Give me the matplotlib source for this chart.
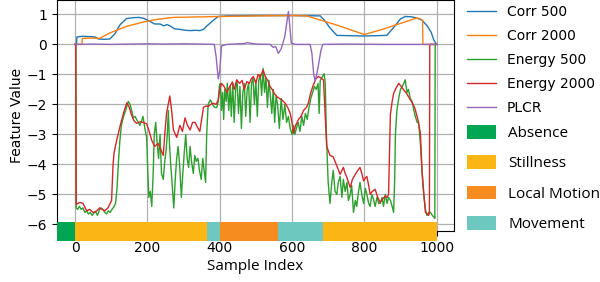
import matplotlib
matplotlib.use("Agg")
import matplotlib.pyplot as plt
from matplotlib.patches import Patch

# ---- data ----
corr500_x = [0, 4, 5, 20, 40, 55, 65, 80, 96, 110, 124, 142, 160, 175, 190, 205, 220, 235, 245, 255,
             265, 275, 290, 305, 320, 335, 345, 355, 365, 382, 396, 420, 500, 600, 678, 690, 705, 724,
             800, 862, 880, 900, 913, 930, 945, 960, 975, 985, 992, 997, 1000]
corr500_y = [0, 0, 0.25, 0.27, 0.26, 0.25, 0.18, 0.17, 0.18, 0.35, 0.65, 0.86, 0.89, 0.9, 0.87, 0.78,
             0.68, 0.68, 0.62, 0.66, 0.6, 0.52, 0.5, 0.47, 0.46, 0.47, 0.46, 0.5, 0.62, 0.8, 0.93, 0.95,
             0.96, 0.96, 0.95, 0.8, 0.55, 0.3, 0.28, 0.3, 0.55, 0.85, 0.93, 0.92, 0.88, 0.8, 0.6, 0.4,
             0.15, 0.05, 0]

corr2000_x = [0, 19, 20, 40, 68, 96, 142, 190, 225, 272, 400, 500, 600, 640, 720, 800, 850, 900, 945,
              955, 961, 962, 1000]
corr2000_y = [0, 0, 0.2, 0.21, 0.2, 0.38, 0.6, 0.75, 0.83, 0.9, 0.93, 0.95, 0.96, 0.95, 0.66, 0.33,
              0.5, 0.7, 0.88, 0.85, 0.8, 0, 0]

energy500_x = [0, 2, 3, 7, 12, 17, 22, 27, 32, 37, 42, 47, 52, 57, 62, 67, 72, 77, 82, 87, 92, 97, 102,
               107, 112, 116, 120, 124, 128, 134, 140, 147, 152, 156, 161, 166, 170, 175, 179, 184, 188,
               193, 198, 201, 204, 208, 212, 216, 219, 223, 227, 231, 235, 239, 244, 248, 252, 255, 258,
               261, 264, 268, 273, 277, 281, 285, 289, 294, 298, 302, 306, 310, 314, 318, 322, 327, 331,
               335, 340, 344, 349, 353, 358, 361, 364, 368, 374, 380, 386, 392, 396, 399, 402, 405, 408,
               411, 414, 418, 421, 425, 429, 432, 436, 440, 444, 448, 452, 456, 460, 464, 468, 472, 476,
               480, 484, 488, 492, 496, 500, 504, 508, 512, 516, 520, 524, 528, 532, 536, 540, 544, 548,
               552, 556, 560, 565, 570, 575, 580, 585, 590, 595, 600, 604, 608, 612, 617, 622, 627, 632,
               637, 642, 647, 652, 657, 662, 667, 672, 675, 678, 683, 689, 692, 695, 700, 705, 710, 714,
               719, 724, 728, 733, 738, 742, 747, 752, 756, 761, 765, 770, 775, 779, 784, 788, 793, 798,
               803, 807, 812, 816, 821, 826, 830, 835, 840, 844, 849, 853, 858, 863, 867, 872, 877, 881,
               884, 886, 890, 895, 900, 905, 909, 913, 918, 922, 927, 932, 937, 941, 946, 950, 955, 960,
               964, 969, 973, 978, 983, 988, 992, 995, 996, 1000]
energy500_y = [0, 0, -5.45, -5.5, -5.4, -5.5, -5.45, -5.6, -5.55, -5.65, -5.6, -5.7, -5.62, -5.58, -5.7,
               -5.52, -5.45, -5.5, -5.6, -5.65, -5.55, -5.6, -5.5, -5.42, -5.3, -4.8, -3.9, -3.2, -2.7,
               -2.4, -2.2, -1.9, -2.0, -2.18, -2.45, -2.4, -2.5, -2.6, -2.7, -2.55, -2.4, -2.8, -3.1,
               -4.2, -5.1, -4.9, -5.4, -4.3, -3.0, -2.6, -3.3, -3.8, -3.0, -4.3, -4.5, -3.9, -3.5, -3.0,
               -2.2, -3.3, -3.9, -4.6, -5.45, -4.5, -3.8, -3.4, -4.0, -5.1, -4.3, -3.6, -3.0, -3.8, -4.1,
               -3.4, -3.9, -4.3, -3.7, -3.9, -3.8, -4.2, -4.5, -3.8, -4.3, -4.6, -3.0, -2.0, -1.85, -2.0,
               -2.1, -2.1, -1.9, -1.4, -1.3, -2.2, -1.6, -2.5, -1.5, -1.9, -1.3, -2.2, -1.4, -2.4, -1.3,
               -2.6, -1.5, -1.2, -2.3, -1.4, -2.8, -1.6, -1.3, -2.4, -1.5, -1.3, -2.6, -1.3, -1.1, -2.0,
               -1.2, -2.4, -1.2, -1.0, -1.7, -0.8, -1.6, -1.1, -2.1, -1.2, -1.7, -2.3, -1.5, -2.6, -1.7,
               -2.0, -2.8, -1.8, -2.5, -2.0, -2.6, -2.4, -2.8, -3.0, -2.7, -3.0, -2.8, -2.6, -2.9, -2.4,
               -2.7, -2.3, -2.5, -2.1, -1.8, -1.6, -1.4, -1.5, -1.3, -2.3, -1.2, -1.1, -0.98, -1.3, -3.0,
               -4.6, -5.3, -4.6, -4.2, -4.9, -5.0, -4.6, -4.4, -5.1, -4.5, -4.9, -4.6, -5.2, -5.0, -4.7,
               -5.6, -5.2, -5.4, -4.9, -4.6, -5.0, -5.3, -4.8, -5.0, -5.3, -5.4, -5.0, -5.2, -5.4, -5.1,
               -5.3, -5.3, -5.1, -5.4, -5.0, -5.3, -5.1, -5.2, -5.4, -5.6, -4.5, -3.0, -2.2, -1.8, -1.5,
               -1.4, -1.3, -1.18, -1.6, -1.5, -1.8, -1.9, -2.2, -2.4, -2.6, -2.6, -3.3, -4.3, -5.0, -5.5,
               -5.7, -5.6, -5.6, -5.7, -5.75, -5.8, 0, 0]

energy2000_x = [0, 2, 3, 13, 22, 32, 40, 50, 60, 68, 75, 82, 91, 101, 105, 108, 115, 125, 135, 143, 150,
                156, 163, 170, 180, 188, 198, 205, 212, 220, 230, 237, 244, 248, 253, 262, 267, 272, 281,
                290, 297, 304, 311, 318, 325, 332, 338, 345, 350, 355, 362, 368, 375, 382, 390, 396, 400,
                405, 412, 420, 428, 435, 440, 447, 455, 462, 468, 475, 482, 487, 493, 500, 506, 512, 520,
                527, 533, 539, 545, 552, 558, 565, 572, 581, 588, 595, 600, 604, 610, 618, 625, 632, 640,
                645, 652, 659, 666, 673, 680, 687, 690, 696, 705, 714, 719, 724, 733, 738, 742, 747, 752,
                756, 761, 767, 775, 782, 788, 793, 798, 803, 807, 812, 816, 822, 830, 837, 844, 851, 858,
                863, 867, 869, 872, 877, 881, 888, 895, 902, 909, 915, 922, 930, 935, 941, 948, 955, 960,
                965, 969, 974, 978, 980, 981, 1000]
energy2000_y = [0, 0, -5.33, -5.27, -5.3, -5.55, -5.5, -5.6, -5.55, -5.45, -5.5, -5.55, -5.45, -5.2,
                -4.0, -3.6, -3.2, -2.7, -2.25, -1.95, -2.1, -2.35, -2.55, -2.63, -2.58, -2.6, -2.65, -2.9,
                -3.2, -3.4, -3.3, -3.5, -3.7, -3.0, -2.3, -1.72, -2.2, -2.85, -3.1, -2.7, -2.9, -2.45,
                -2.7, -2.85, -2.6, -2.6, -2.75, -2.9, -2.5, -2.1, -2.05, -2.07, -2.0, -1.96, -2.0, -1.85,
                -1.5, -1.3, -1.4, -1.6, -1.4, -1.25, -1.5, -1.18, -1.3, -1.2, -1.5, -1.24, -1.3, -1.15,
                -1.07, -1.3, -1.0, -1.1, -0.85, -1.1, -1.2, -1.4, -1.5, -1.65, -1.74, -1.8, -1.85, -1.96,
                -2.1, -2.3, -2.6, -2.96, -2.7, -2.5, -2.4, -2.2, -2.1, -1.96, -1.6, -1.35, -1.15, -1.07,
                -1.12, -1.18, -1.9, -3.4, -3.7, -3.75, -3.9, -4.05, -4.33, -4.2, -4.1, -4.3, -4.44, -4.6,
                -4.77, -4.5, -4.33, -4.2, -4.1, -4.3, -4.55, -4.45, -4.4, -4.7, -5.0, -4.9, -4.83, -5.1,
                -5.27, -5.15, -5.05, -5.1, -5.0, -4.0, -2.35, -1.9, -1.63, -1.45, -1.3, -1.4, -1.52, -1.6,
                -1.74, -1.9, -2.0, -2.18, -2.5, -2.96, -4.3, -5.0, -5.6, -5.65, -5.7, -5.6, 0, 0]

plcr_x = [0, 50, 100, 150, 200, 250, 300, 350, 385, 390, 396, 400, 405, 420, 470, 475, 500, 540, 548,
          555, 562, 570, 580, 590, 594, 598, 610, 650, 655, 660, 664, 670, 680, 685, 750, 850, 950, 1000]
plcr_y = [0, 0.01, 0, 0.01, 0.02, 0.01, 0.02, 0.01, 0, -0.4, -1.15, -0.9, -0.05, 0, 0.03, 0.06, 0.01,
          0, -0.1, -0.07, -0.3, -0.15, 0.26, 1.1, 0.6, 0.04, 0, 0, -0.3, -1.0, -1.22, -0.9, -0.2, 0,
          0.01, 0, 0, 0]

# activity segments (start, end) and labels
act_labels = ["Absence", "Stillness", "Local Motion", "Movement"]
act_colors = ["#00a651", "#fbb615", "#f68b1f", "#6dc8bf"]
act_segments = [(-50, 0, "Absence"), (0, 364, "Stillness"), (364, 401, "Movement"),
                (401, 560, "Local Motion"), (560, 687, "Movement"), (687, 1001, "Stillness")]

fig = plt.figure(figsize=(6, 2.82), dpi=100)
ax = fig.add_axes([57 / 600, 1 - 231 / 282, 397 / 600, 231 / 282])

l1, = ax.plot(corr500_x, corr500_y, color="C0", lw=1.0, label="Corr 500")
l2, = ax.plot(corr2000_x, corr2000_y, color="C1", lw=1.0, label="Corr 2000")
l3, = ax.plot(energy500_x, energy500_y, color="C2", lw=1.0, label="Energy 500")
l4, = ax.plot(energy2000_x, energy2000_y, color="C3", lw=1.0, label="Energy 2000")
l5, = ax.plot(plcr_x, plcr_y, color="C4", lw=1.0, label="PLCR")

cmap = dict(zip(act_labels, act_colors))
for s, e, lab in act_segments:
    ax.broken_barh([(s, e - s)], (-6.55, 0.63), facecolors=cmap[lab], clip_on=False, zorder=5)

ax.set_xlim(-50, 1048)
ax.set_ylim(-6.22, 1.48)
ax.set_xticks([0, 200, 400, 600, 800, 1000])
ax.set_yticks([-6, -5, -4, -3, -2, -1, 0, 1])
ax.tick_params(labelsize=10)
ax.grid(True, color="#b0b0b0", lw=0.9)
ax.set_axisbelow(True)
ax.set_xlabel("Sample Index", fontsize=11, family="Open Sans", labelpad=3)
ax.set_ylabel("Feature Value", fontsize=10, labelpad=2)

fig.legend(handles=[l1, l2, l3, l4, l5], loc="upper left", bbox_to_anchor=(461 / 600, 1.003),
           borderaxespad=0, frameon=False, fontsize=10, handlelength=2.1, labelspacing=0.72)
patches = [Patch(facecolor=c, label=l) for l, c in zip(act_labels, act_colors)]
fig.legend(handles=patches, loc="upper left", bbox_to_anchor=(461 / 600, 1 - 119 / 282),
           borderaxespad=0, frameon=False, prop={"family": "Open Sans", "size": 11},
           handlelength=1.9, handleheight=1.0, labelspacing=0.93)

fig.savefig("out.png", dpi=100)
